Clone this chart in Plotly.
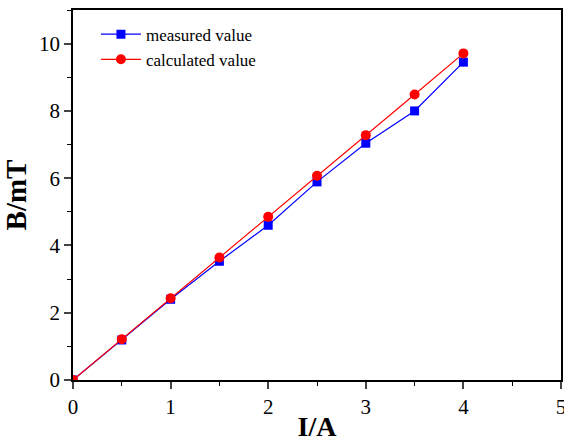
import plotly.graph_objects as go

current = [0, 0.5, 1.0, 1.5, 2.0, 2.5, 3.0, 3.5, 4.0]
measured = [0, 1.19, 2.40, 3.53, 4.60, 5.89, 7.04, 8.00, 9.45]
calculated = [0, 1.21, 2.43, 3.64, 4.85, 6.07, 7.28, 8.49, 9.71]

fig = go.Figure()
fig.add_trace(go.Scatter(x=current, y=measured, mode="lines+markers", name="measured value",
                         line=dict(color="#0000ff", width=1.2),
                         marker=dict(symbol="square", size=9, color="#0000ff")))
fig.add_trace(go.Scatter(x=current, y=calculated, mode="lines+markers", name="calculated value",
                         line=dict(color="#ff0000", width=1.2),
                         marker=dict(symbol="circle", size=10, color="#ff0000")))

font = "Liberation Serif, Times New Roman, serif"
fig.update_layout(
    width=564, height=442,
    margin=dict(l=73, r=3, t=10, b=62, autoexpand=False),
    paper_bgcolor="white", plot_bgcolor="white",
    font=dict(family=font, color="black", size=18),
    showlegend=True,
    legend=dict(x=0.047, y=0.982, xanchor="left", yanchor="top",
                font=dict(size=17, family=font), bgcolor="rgba(0,0,0,0)",
                itemwidth=40, tracegroupgap=0),
    xaxis=dict(range=[0, 5], dtick=1, ticks="outside", ticklen=7, tickwidth=1.5,
               showline=True, linecolor="black", linewidth=1.5, mirror=True,
               showgrid=False, zeroline=False, automargin=False, ticklabeloverflow="allow",
               minor=dict(dtick=0.5, ticks="outside", ticklen=4, tickcolor="black", tickwidth=1.2),
               tickfont=dict(size=21),
               title=dict(text="<b>I/A</b>", font=dict(size=28), standoff=2)),
    yaxis=dict(range=[0, 11], tickvals=[0, 2, 4, 6, 8, 10], ticks="outside", ticklen=7, tickwidth=1.5,
               showline=True, linecolor="black", linewidth=1.5, mirror=True,
               showgrid=False, zeroline=False, automargin=False, ticklabeloverflow="allow",
               minor=dict(dtick=1, ticks="outside", ticklen=4, tickcolor="black", tickwidth=1.2),
               tickfont=dict(size=21),
               title=dict(text="<b>B/mT</b>", font=dict(size=29), standoff=7)),
)
fig.write_html("out.html", config={"displayModeBar": False},
               post_script="document.body.style.margin='0px';document.body.style.overflow='hidden';")
